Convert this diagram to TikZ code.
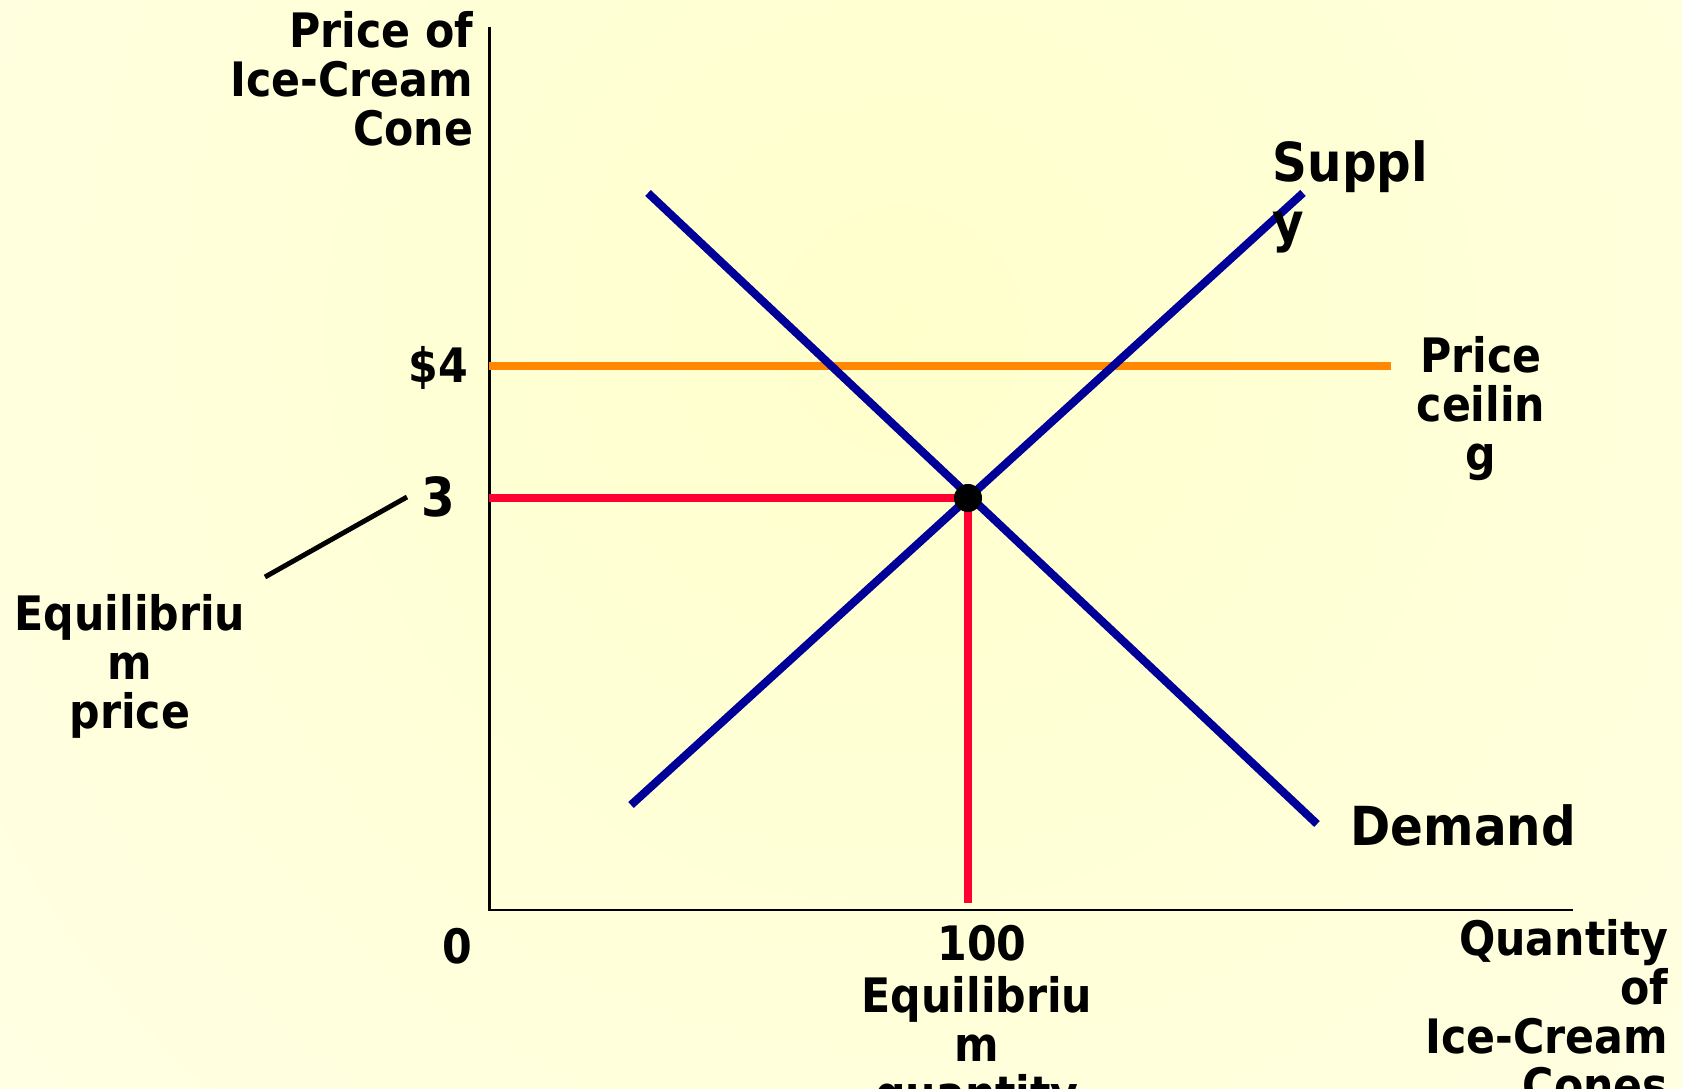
\documentclass[tikz,border=0pt]{standalone}
\usepackage{fontspec}
\setmainfont{DejaVu Sans Condensed}
\usepackage{tikz}
\definecolor{mktblue}{HTML}{000099}
\definecolor{mktred}{HTML}{FF0033}
\definecolor{mktorange}{HTML}{FF8800}
\definecolor{bgin}{HTML}{FFFFCC}
\definecolor{bgout}{HTML}{FFFFF2}

\begin{document}
\begin{tikzpicture}[x=0.01cm,y=-0.01cm,
    lbl/.style={font=\bfseries\fontsize{13.5}{13.9}\selectfont,inner sep=0pt},
    biglbl/.style={font=\bfseries\fontsize{15.3}{17}\selectfont,inner sep=0pt},
    curve/.style={mktblue,line width=2.3pt},
    mark line/.style={line width=2.4pt}]
  \useasboundingbox (0,0) rectangle (1682,1089);
  % background
  \begin{scope}
    \clip (0,0) rectangle (1682,1089);
    \shade[inner color=bgin,outer color=bgout] (900,330) circle[radius=19cm];
  \end{scope}

  % axes
  \coordinate (top) at (489,27);
  \coordinate (origin) at (489,910);
  \coordinate (right) at (1573,910);
  \draw[line width=0.85pt] (top) -- (origin) -- (right);

  % curves
  \coordinate (s0) at (631,805);
  \coordinate (s1) at (1303,193);
  \coordinate (d0) at (648,193);
  \coordinate (d1) at (1317,824);
  \coordinate (eq) at (968,498);
  \coordinate (c0) at (489,366);
  \coordinate (c1) at (1391,366);
  \coordinate (p0) at (489,498);
  \coordinate (q0) at (968,903);

  \draw[mark line,mktorange] (c0) -- (c1);
  \draw[mark line,mktred] (p0) -- (eq) -- (q0);
  \draw[curve] (s0) -- (s1);
  \draw[curve] (d0) -- (d1);
  \fill (eq) circle[radius=0.14cm];

  % labels
  \node[lbl,align=right,anchor=north east] (ylab) at (474,11) {Price of\\Ice-Cream\\Cone};
  \node[lbl,align=right,anchor=north east] (xlab) at (1669,919) {Quantity\\of\\Ice-Cream\\Cones};
  \node[lbl,anchor=base east] (four) at (469,383) {\$4};
  \node[biglbl,anchor=base east] (three) at (456,517) {3};
  \node[lbl,anchor=base] (zero) at (457,963) {0};
  \node[lbl,anchor=base] (hundred) at (982,960) {100};
  \node[lbl,align=center,anchor=north] (eqq) at (977,976) {Equilibriu\\m\\quantity};
  \node[lbl,align=center,anchor=north] (eqp) at (130,594) {Equilibriu\\m\\price};
  \node[biglbl,align=left,anchor=north west] (supply) at (1272,140) {Suppl\\y};
  \node[lbl,align=center,anchor=north] (ceiling) at (1481,336) {Price\\ceilin\\g};
  \node[biglbl,anchor=base west] (demand) at (1350,846) {Demand};

  \coordinate (lead0) at (265,577);
  \coordinate (lead1) at (407,497);
  \draw[line width=1.4pt] (lead0) -- (lead1);
\end{tikzpicture}
\end{document}
